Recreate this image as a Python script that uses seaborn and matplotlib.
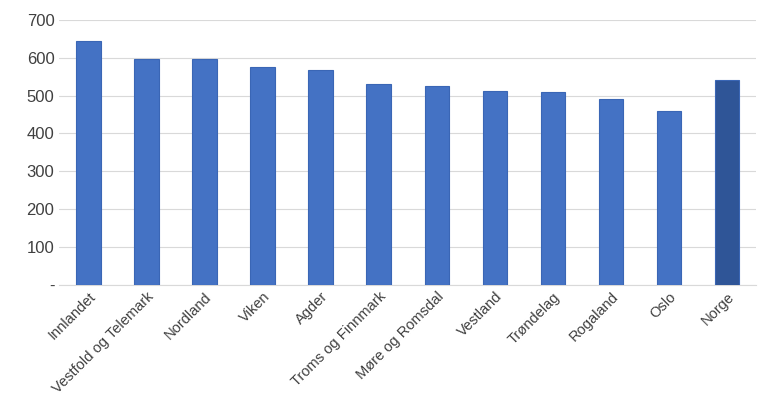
import matplotlib
matplotlib.use("Agg")
import matplotlib.pyplot as plt
import seaborn as sns
import pandas as pd

regions = ["Innlandet", "Vestfold og Telemark", "Nordland", "Viken", "Agder",
           "Troms og Finnmark", "Møre og Romsdal", "Vestland", "Trøndelag",
           "Rogaland", "Oslo", "Norge"]
values = [645, 597, 597, 576, 568, 531, 526, 513, 510, 492, 460, 541]

df = pd.DataFrame({"region": regions, "value": values})
colors = ["#4472C4"] * (len(regions) - 1) + ["#2F5597"]

sns.set_style("white")
plt.rcParams["font.family"] = ["Calibri", "Liberation Sans", "DejaVu Sans"]

fig = plt.figure(figsize=(7.7, 4.07), dpi=100)
ax = fig.add_axes([0.077, 0.30, 0.905, 0.651])
sns.barplot(df, x="region", y="value", hue="region", palette=colors,
            saturation=1, legend=False, width=0.42, edgecolor="#3A66B5",
            linewidth=0.8, ax=ax, zorder=3)

ax.set_ylim(0, 700)
ax.set_yticks(range(0, 701, 100))
ax.set_yticklabels(["-"] + [str(v) for v in range(100, 701, 100)])
ax.grid(axis="y", color="#D9D9D9", linewidth=0.8, zorder=0)
for s in ["top", "right", "left"]:
    ax.spines[s].set_visible(False)
ax.spines["bottom"].set_color("#D9D9D9")
ax.tick_params(axis="both", length=0, labelsize=10.5, colors="#404040")
ax.tick_params(axis="y", labelsize=12)
plt.setp(ax.get_xticklabels(), rotation=45, ha="right", rotation_mode="anchor")
ax.set_xlabel("")
ax.set_ylabel("")

fig.savefig("out.png", dpi=100)
